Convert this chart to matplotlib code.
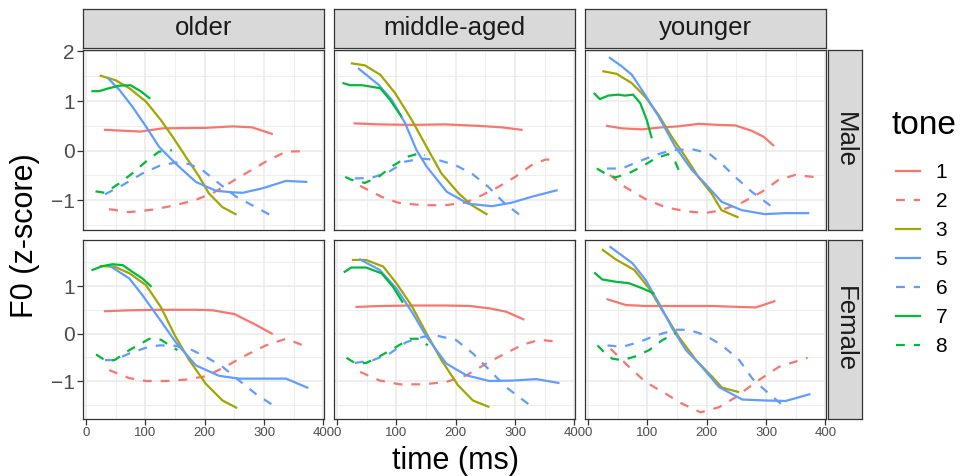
import matplotlib.pyplot as plt
from matplotlib.lines import Line2D

plt.rcParams['font.family'] = ['Liberation Sans', 'DejaVu Sans']

W, H = 960, 476

ages = ['older', 'middle-aged', 'younger']
sexes = ['Male', 'Female']
tones = ['1', '2', '3', '5', '6', '7', '8']
tone_color = {'1': '#F8766D', '2': '#F8766D', '3': '#A3A500', '5': '#619CFF',
              '6': '#619CFF', '7': '#00BA38', '8': '#00BA38'}
dashed_tones = ['2', '6', '8']

# mean F0 contours per tone: (time in ms, F0 z-score)
older_male = {
    '1': ([32, 92, 129, 202, 247, 280, 313], [0.42, 0.385, 0.45, 0.46, 0.49, 0.47, 0.34]),
    '2': ([39, 73, 112, 151, 185, 213, 241, 269, 303, 337, 371],
          [-1.18, -1.24, -1.19, -1.10, -0.99, -0.86, -0.66, -0.46, -0.22, -0.02, -0.01]),
    '3': ([25, 50, 73, 101, 126, 146, 168, 191, 207, 230, 252],
          [1.51, 1.42, 1.26, 0.99, 0.62, 0.28, -0.12, -0.53, -0.86, -1.14, -1.28]),
    '5': ([38, 56, 78, 101, 123, 151, 185, 219, 247, 264, 297, 337, 371],
          [1.45, 1.23, 0.89, 0.49, 0.08, -0.26, -0.63, -0.81, -0.84, -0.85, -0.76, -0.61, -0.63]),
    '6': ([32, 61, 95, 123, 151, 174, 196, 224, 252, 286, 317],
          [-0.88, -0.70, -0.46, -0.31, -0.24, -0.27, -0.39, -0.66, -0.92, -1.14, -1.34]),
    '7': ([11, 22, 39, 56, 75, 92, 107], [1.20, 1.20, 1.26, 1.31, 1.32, 1.20, 1.06]),
    '8': ([16, 32, 56, 78, 101, 123, 145], [-0.82, -0.85, -0.66, -0.46, -0.22, -0.02, 0.01]),
}

middle_male = {
    '1': ([30, 70, 126, 182, 238, 278, 311], [0.55, 0.53, 0.52, 0.53, 0.50, 0.47, 0.42]),
    '2': ([39, 75, 103, 143, 182, 216, 244, 272, 300, 328, 351, 366],
          [-0.71, -0.93, -1.05, -1.10, -1.10, -1.05, -0.90, -0.73, -0.53, -0.29, -0.18, -0.18]),
    '3': ([25, 47, 73, 98, 126, 154, 176, 205, 227, 252],
          [1.76, 1.72, 1.53, 1.16, 0.62, 0.01, -0.46, -0.86, -1.10, -1.28]),
    '5': ([37, 70, 92, 115, 134, 151, 185, 221, 261, 294, 328, 370],
          [1.65, 1.33, 1.03, 0.55, 0.01, -0.32, -0.83, -1.07, -1.12, -1.05, -0.93, -0.80]),
    '6': ([30, 58, 87, 115, 143, 171, 199, 227, 255, 283, 314],
          [-0.56, -0.55, -0.43, -0.22, -0.16, -0.19, -0.29, -0.46, -0.73, -1.07, -1.35]),
    '7': ([11, 22, 42, 73, 89, 108], [1.36, 1.32, 1.32, 1.26, 1.03, 0.70]),
    '8': ([14, 25, 47, 70, 92, 120, 142, 148], [-0.53, -0.59, -0.65, -0.53, -0.32, -0.12, -0.04, -0.09]),
}

younger_male = {
    '1': ([32, 57, 91, 124, 152, 186, 220, 248, 276, 296, 312],
          [0.50, 0.45, 0.43, 0.47, 0.49, 0.54, 0.52, 0.51, 0.40, 0.28, 0.11]),
    '2': ([37, 62, 96, 130, 164, 197, 225, 259, 293, 321, 349, 380],
          [-0.49, -0.73, -0.97, -1.14, -1.22, -1.26, -1.20, -1.05, -0.83, -0.59, -0.49, -0.53]),
    '3': ([26, 48, 74, 96, 119, 141, 164, 186, 208, 225, 252],
          [1.60, 1.55, 1.36, 1.09, 0.72, 0.28, -0.12, -0.53, -0.86, -1.20, -1.34]),
    '5': ([37, 57, 74, 96, 119, 147, 175, 197, 225, 259, 298, 332, 371],
          [1.87, 1.70, 1.53, 1.13, 0.69, 0.08, -0.39, -0.66, -1.03, -1.20, -1.28, -1.26, -1.26]),
    '6': ([32, 57, 85, 113, 141, 175, 203, 225, 248, 276, 312],
          [-0.36, -0.36, -0.22, -0.09, 0.01, 0.03, -0.05, -0.26, -0.53, -0.83, -1.15]),
    '7': ([11, 20, 34, 51, 62, 76, 88, 99, 107], [1.15, 1.04, 1.11, 1.13, 1.11, 1.13, 0.96, 0.62, 0.27]),
    '8': ([15, 29, 46, 68, 91, 113, 135, 147, 155],
          [-0.36, -0.46, -0.54, -0.46, -0.32, -0.16, -0.07, -0.22, -0.46]),
}

older_female = {
    '1': ([32, 73, 129, 185, 213, 250, 282, 313], [0.47, 0.49, 0.50, 0.50, 0.49, 0.41, 0.21, 0.0]),
    '2': ([39, 73, 101, 135, 168, 202, 236, 269, 303, 337, 376],
          [-0.77, -0.94, -1.0, -1.0, -0.97, -0.90, -0.69, -0.46, -0.25, -0.11, -0.30]),
    '3': ([25, 48, 73, 101, 126, 151, 174, 202, 230, 253],
          [1.42, 1.41, 1.27, 1.02, 0.56, -0.07, -0.56, -1.06, -1.41, -1.56]),
    '5': ([42, 73, 95, 123, 151, 185, 224, 258, 298, 337, 373],
          [1.41, 1.16, 0.81, 0.32, -0.18, -0.67, -0.89, -0.95, -0.95, -0.95, -1.14]),
    '6': ([32, 48, 73, 101, 123, 146, 174, 202, 230, 258, 286, 315],
          [-0.56, -0.56, -0.42, -0.30, -0.25, -0.25, -0.32, -0.49, -0.70, -0.99, -1.27, -1.51]),
    '7': ([11, 28, 45, 62, 78, 95, 109], [1.34, 1.42, 1.46, 1.44, 1.30, 1.16, 1.0]),
    '8': ([17, 32, 48, 73, 107, 126, 154], [-0.44, -0.56, -0.56, -0.35, -0.11, -0.13, -0.35]),
}

middle_female = {
    '1': ([33, 72, 128, 184, 224, 257, 285, 314], [0.56, 0.58, 0.59, 0.59, 0.58, 0.53, 0.46, 0.30]),
    '2': ([39, 72, 106, 145, 184, 218, 252, 285, 314, 342, 375],
          [-0.81, -0.99, -1.07, -1.07, -1.02, -0.88, -0.63, -0.41, -0.23, -0.13, -0.18]),
    '3': ([27, 49, 78, 100, 125, 151, 176, 204, 229, 255],
          [1.55, 1.55, 1.41, 1.06, 0.60, 0.0, -0.56, -1.09, -1.41, -1.54]),
    '5': ([39, 72, 100, 128, 151, 184, 218, 257, 297, 336, 373],
          [1.56, 1.34, 0.95, 0.42, -0.07, -0.63, -0.88, -1.0, -0.99, -0.96, -1.04]),
    '6': ([30, 61, 89, 117, 145, 167, 201, 229, 257, 285, 325],
          [-0.62, -0.56, -0.42, -0.18, -0.07, -0.04, -0.14, -0.42, -0.77, -1.13, -1.51]),
    '7': ([13, 24, 49, 75, 94, 110], [1.30, 1.39, 1.39, 1.27, 0.99, 0.67]),
    '8': ([16, 30, 49, 72, 100, 123, 139, 153], [-0.51, -0.62, -0.62, -0.48, -0.28, -0.11, -0.11, -0.25]),
}

younger_female = {
    '1': ([33, 64, 97, 153, 210, 255, 283, 314], [0.72, 0.60, 0.58, 0.58, 0.58, 0.56, 0.55, 0.68]),
    '2': ([38, 69, 97, 131, 159, 190, 221, 249, 283, 322, 370],
          [-0.32, -0.70, -1.02, -1.27, -1.48, -1.66, -1.55, -1.34, -1.02, -0.70, -0.51]),
    '3': ([25, 47, 78, 103, 125, 153, 182, 210, 226, 253],
          [1.76, 1.56, 1.34, 0.95, 0.49, -0.07, -0.56, -0.92, -1.14, -1.23]),
    '5': ([38, 75, 97, 120, 142, 165, 187, 221, 260, 299, 333, 373],
          [1.82, 1.48, 1.13, 0.63, 0.11, -0.35, -0.63, -1.13, -1.39, -1.41, -1.42, -1.28]),
    '6': ([33, 58, 86, 114, 148, 170, 198, 226, 255, 277, 305, 325],
          [-0.25, -0.28, -0.18, -0.04, 0.08, 0.08, -0.04, -0.25, -0.56, -0.95, -1.27, -1.48]),
    '7': ([12, 24, 47, 69, 92, 110], [1.27, 1.14, 1.09, 1.06, 0.95, 0.85]),
    '8': ([16, 27, 41, 58, 78, 103, 125, 148], [-0.25, -0.39, -0.53, -0.56, -0.49, -0.35, -0.14, 0.01]),
}

panels = {
    ('older', 'Male'): older_male, ('middle-aged', 'Male'): middle_male,
    ('younger', 'Male'): younger_male, ('older', 'Female'): older_female,
    ('middle-aged', 'Female'): middle_female, ('younger', 'Female'): younger_female,
}

x_ticks = [0, 100, 200, 300, 400]
y_ticks = [[-1, 0, 1, 2], [-1, 0, 1]]


def box(x0, y0, x1, y1):
    # pixel box (top-left origin) -> figure fraction rect
    return [x0 / W, 1 - y1 / H, (x1 - x0) / W, (y1 - y0) / H]


def tone_style(tone):
    return (0, (4, 4)) if tone in dashed_tones else '-'


def strip(rect, text, rotation=0):
    s = fig.add_axes(rect)
    s.set_facecolor('#D9D9D9')
    s.set_xticks([])
    s.set_yticks([])
    for sp in s.spines.values():
        sp.set_color('#333333')
        sp.set_linewidth(0.9)
    s.text(0.5, 0.5, text, transform=s.transAxes, ha='center', va='center',
           fontsize=18.5, color='#1A1A1A', rotation=rotation)


fig = plt.figure(figsize=(W / 100, H / 100), dpi=100)

col_x = [(83, 324), (334, 575), (585, 826)]
row_y = [(50, 230), (240, 419)]
ylims = [(-1.6, 2.03), (-1.8, 1.97)]

for r, sex in enumerate(sexes):
    for c, age in enumerate(ages):
        ax = fig.add_axes(box(col_x[c][0], row_y[r][0], col_x[c][1], row_y[r][1]))
        for tone in tones:
            t, y = panels[(age, sex)][tone]
            ax.plot(t, y, color=tone_color[tone], lw=1.6, ls=tone_style(tone))
        ax.set_xlim(-5, 401)
        ax.set_ylim(*ylims[r])
        ax.set_xticks(x_ticks)
        ax.set_xticks([50, 150, 250, 350], minor=True)
        ax.set_yticks(y_ticks[r])
        ax.set_yticks([-1.5, -0.5, 0.5, 1.5], minor=True)
        ax.grid(which='major', color='#EBEBEB', lw=1.2)
        ax.grid(which='minor', color='#EBEBEB', lw=0.6)
        ax.set_axisbelow(True)
        for sp in ax.spines.values():
            sp.set_color('#333333')
            sp.set_linewidth(0.9)
        ax.tick_params(which='minor', length=0)
        ax.tick_params(which='major', color='#333333', length=4, width=0.9,
                       labelcolor='#4D4D4D')
        ax.tick_params(axis='y', labelsize=15, pad=2)
        ax.tick_params(axis='x', labelsize=9.5, pad=2)
        if c > 0:
            ax.tick_params(axis='y', length=0, labelleft=False)
        if r == 0:
            ax.tick_params(axis='x', length=0, labelbottom=False)
            strip(box(col_x[c][0], 9, col_x[c][1], 47.5), age)
        if c == 2:
            strip(box(828, row_y[r][0], 862, row_y[r][1]), sex, rotation=-90)

fig.text(25 / W, 1 - 236 / H, 'F0 (z-score)', rotation=90, fontsize=22,
         ha='center', va='center')
fig.text(455 / W, 1 - 461 / H, 'time (ms)', fontsize=22, ha='center', va='center')

# legend: title placed on its own, keys below it
fig.text(892 / W, 1 - 125 / H, 'tone', fontsize=24, ha='left', va='center')
handles = [Line2D([], [], color=tone_color[t], lw=1.6, ls=tone_style(t)) for t in tones]
fig.legend(handles, tones, loc='upper left',
           bbox_to_anchor=(896 / W, 1 - 163 / H), frameon=False, fontsize=15,
           handlelength=1.15, handletextpad=0.75, labelspacing=0.48,
           borderaxespad=0, borderpad=0)

fig.savefig('out.png', dpi=100)
